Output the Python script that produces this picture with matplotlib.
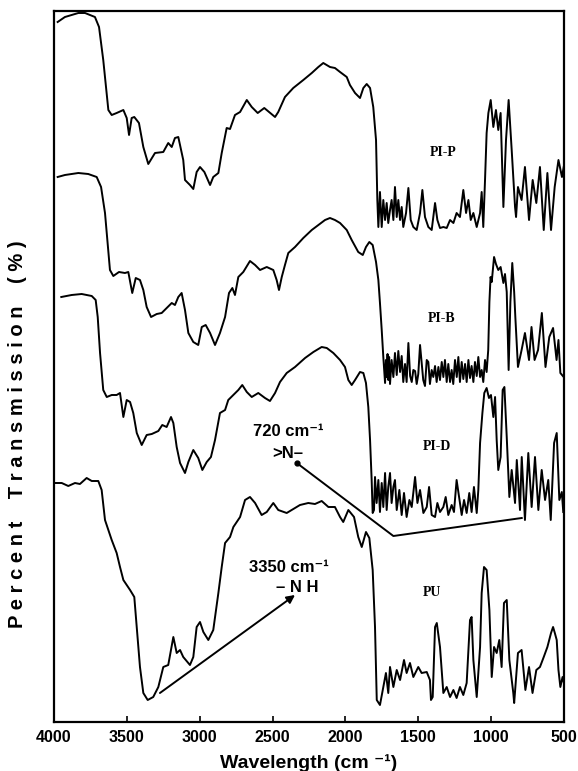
import matplotlib
matplotlib.use("Agg")
import matplotlib.pyplot as plt

# ---------------- data (wavenumber cm^-1, transmission in arbitrary stacked units) -------------
pip_wn = [3975, 3925, 3833, 3787, 3719, 3691, 3662, 3627, 3604, 3570, 3524, 3501, 3485, 3467, 3449,
          3417, 3387, 3353, 3307, 3250, 3216, 3192, 3170, 3147, 3113, 3101, 3067, 3044, 3021, 2998,
          2968, 2929, 2907, 2872, 2849, 2815, 2792, 2758, 2723, 2677, 2643, 2602, 2557, 2524, 2483,
          2461, 2415, 2358, 2289, 2231, 2186, 2152, 2106, 2072, 2037, 1991, 1969, 1934, 1900, 1877,
          1854, 1831, 1809, 1790, 1781, 1774,
          1763, 1751, 1740, 1728, 1717, 1706, 1694, 1683, 1671, 1660, 1648, 1637, 1625, 1614, 1603,
          1584, 1568, 1552, 1534, 1511, 1488, 1472, 1454, 1431, 1408, 1385, 1369, 1351, 1328, 1305,
          1282, 1259, 1237, 1214, 1191, 1172, 1156, 1140, 1122, 1099, 1076, 1065, 1054, 1042, 1031,
          1019, 1003, 985, 967, 951, 935, 916, 898, 880, 859, 836,
          829, 816, 791, 768, 740, 715, 690, 665, 639, 614, 589, 564, 538, 514, 502]
pip_t = [700, 705, 709, 709, 705, 695, 662, 612, 607, 609, 612, 604, 587, 604, 605,
         599, 575, 558, 569, 570, 579, 575, 584, 585, 562, 542, 537, 533, 550, 555,
         550, 537, 545, 549, 569, 594, 593, 607, 610, 622, 615, 609, 614, 610, 605,
         610, 625, 634, 642, 649, 655, 659, 655, 654, 650, 645, 637, 629, 624, 634,
         638, 634, 615, 582, 522, 495,
         530, 495, 522, 502, 519, 499, 512, 522, 502, 535, 505, 522, 502, 515, 495,
         509, 534, 502, 495, 492, 509, 532, 505, 495, 492, 519, 502, 494, 495, 494,
         502, 499, 509, 505, 532, 509, 522, 502, 509, 495, 509, 530, 495, 542, 589,
         609, 622, 595, 612, 592, 609, 515, 582, 622, 572, 515,
         505, 535, 522, 555, 502, 542, 519, 555, 492, 549, 492, 535, 562, 545, 555]

pib_wn = [3975, 3925, 3833, 3765, 3707, 3677, 3650, 3616, 3593, 3554, 3513, 3490, 3463, 3439, 3410,
          3387, 3364, 3334, 3295, 3261, 3227, 3192, 3170, 3147, 3124, 3101, 3078, 3044, 3010, 2986,
          2959, 2929, 2895, 2861, 2826, 2799, 2776, 2758, 2735, 2701, 2655, 2620, 2586, 2540, 2495,
          2472, 2456, 2437, 2415, 2392, 2346, 2289, 2231, 2186, 2140, 2106, 2072, 2037, 1991, 1957,
          1912, 1881, 1859, 1836, 1813, 1790, 1774, 1763, 1751, 1740,
          1728, 1722, 1717, 1711, 1706, 1700, 1694, 1683, 1671, 1660, 1648, 1637, 1625, 1614, 1603,
          1591, 1580, 1568, 1556, 1545, 1534, 1522, 1511, 1500, 1488, 1477, 1466, 1454, 1442, 1431,
          1420, 1408, 1397, 1385, 1374, 1362, 1351, 1339, 1328, 1317, 1305, 1294, 1282, 1271, 1260,
          1248, 1236, 1225, 1214, 1202, 1191, 1179, 1168, 1156, 1145, 1134, 1122, 1111, 1099, 1088,
          1076, 1065, 1054, 1042, 1031, 1020, 1012, 1004, 996, 980, 967, 951, 935, 916, 905,
          893, 880, 868, 855, 842, 834, 816, 791, 768, 740, 723, 702, 678, 652, 627,
          601, 575, 551, 538, 525, 502]
pib_t = [545, 547, 549, 548, 545, 535, 509, 452, 446, 450, 449, 450, 429, 444, 442,
         432, 415, 405, 408, 409, 414, 419, 417, 425, 429, 412, 389, 380, 377, 395,
         397, 389, 377, 389, 405, 429, 434, 427, 445, 450, 461, 457, 452, 455, 452,
         442, 432, 445, 457, 469, 475, 484, 492, 497, 502, 504, 502, 499, 492, 482,
         470, 467, 475, 480, 477, 460, 442, 419, 392, 365,
         339, 362, 345, 368, 342, 365, 338, 362, 345, 369, 347, 371, 350, 366, 340,
         358, 340, 379, 346, 340, 352, 351, 338, 348, 377, 360, 342, 336, 362, 360,
         338, 352, 345, 356, 340, 355, 342, 360, 345, 362, 340, 358, 340, 352, 338,
         362, 345, 365, 340, 360, 343, 358, 340, 362, 344, 356, 340, 360, 346, 365,
         345, 352, 340, 362, 350, 372, 420, 445, 440, 465, 458, 452, 455, 439, 448,
         430, 352, 420, 459, 430, 405, 355, 372, 389, 362, 395, 362, 372, 409, 355,
         385, 394, 362, 382, 349, 345]

pid_wn = [3950, 3879, 3810, 3741, 3714, 3700, 3684, 3662, 3638, 3604, 3570, 3547, 3524, 3501, 3478,
          3456, 3432, 3398, 3364, 3329, 3284, 3257, 3227, 3197, 3181, 3158, 3135, 3101, 3078, 3044,
          3010, 2982, 2952, 2923, 2895, 2861, 2826, 2804, 2769, 2735, 2708, 2677, 2643, 2598, 2552,
          2518, 2483, 2449, 2403, 2346, 2277, 2220, 2163, 2128, 2083, 2037, 2003, 1980, 1957, 1934,
          1900, 1877, 1859, 1843, 1831, 1820, 1813,
          1804, 1797, 1786, 1774, 1763, 1751, 1740, 1728, 1717, 1706, 1694, 1683, 1671, 1660, 1648,
          1630, 1614, 1598, 1580, 1561, 1545, 1522, 1506, 1488, 1465, 1442, 1426, 1408, 1385, 1369,
          1351, 1328, 1312, 1294, 1271, 1255, 1237, 1220, 1202, 1186, 1168, 1150, 1134, 1118, 1099,
          1088, 1076, 1060, 1047, 1031, 1015, 1001, 985, 973, 962, 951, 935, 921, 909, 893,
          875, 859, 836, 824, 802, 790, 768, 745, 722, 699, 676, 653, 630, 608, 591,
          568, 550, 532, 515, 505]
pid_t = [425, 427, 428, 426, 422, 405, 369, 332, 325, 327, 327, 329, 305, 322, 320,
         309, 289, 277, 287, 288, 291, 297, 295, 305, 299, 275, 259, 249, 260, 272,
         264, 252, 260, 265, 282, 309, 312, 322, 327, 332, 337, 330, 325, 329, 324,
         321, 329, 340, 349, 355, 364, 370, 375, 374, 369, 362, 355, 342, 337, 342,
         350, 349, 339, 315, 282, 242, 209,
         212, 245, 219, 242, 210, 239, 215, 249, 212, 235, 249, 219, 235, 242, 212,
         232, 207, 229, 205, 222, 215, 245, 219, 232, 209, 215, 235, 207, 205, 219,
         210, 215, 225, 207, 217, 210, 242, 225, 207, 222, 209, 229, 210, 235, 209,
         232, 279, 309, 329, 334, 324, 327, 305, 325, 282, 252, 265, 332, 335, 285,
         225, 252, 219, 262, 212, 265, 202, 269, 215, 265, 212, 252, 222, 242, 202,
         279, 289, 222, 230, 210]

pu_wn = [3993, 3947, 3902, 3856, 3822, 3776, 3741, 3696, 3673, 3650, 3604, 3570, 3547, 3524, 3478,
         3449, 3432, 3410, 3387, 3357, 3319, 3284, 3250, 3216, 3181, 3158, 3135, 3113, 3067, 3044,
         3021, 2998, 2975, 2941, 2907, 2872, 2849, 2826, 2792, 2769, 2723, 2689, 2655, 2620, 2575,
         2540, 2495, 2461, 2403, 2358, 2312, 2255, 2209, 2163, 2117, 2072, 2037, 2015, 1980, 1941,
         1912, 1888, 1859, 1836, 1813, 1797, 1785, 1763,
         1740, 1722, 1706, 1694, 1671, 1648, 1625, 1598, 1580, 1557, 1534, 1500, 1477, 1442, 1420,
         1413, 1401, 1385, 1373, 1351, 1328, 1305, 1282, 1259, 1237, 1214, 1191, 1168, 1145, 1134,
         1122, 1099, 1076, 1065, 1049, 1031, 1012, 996, 980, 962, 944, 928, 912, 893, 875,
         848, 842, 816, 791, 765, 740, 716, 690, 665, 639, 614, 589, 575, 563, 550,
         538, 525, 510, 502]
pu_t = [239, 239, 236, 239, 238, 244, 241, 241, 232, 202, 182, 169, 155, 142, 132,
        125, 95, 55, 29, 22, 25, 35, 55, 57, 85, 69, 72, 65, 57, 65,
        95, 100, 90, 82, 92, 129, 155, 179, 185, 195, 205, 222, 225, 219, 207,
        210, 219, 212, 209, 213, 217, 219, 218, 221, 215, 215, 205, 200, 212, 205,
        185, 175, 190, 184, 152, 95, 22, 17,
        35, 49, 29, 55, 35, 52, 42, 62, 49, 59, 45, 55, 49, 50, 42,
        22, 25, 95, 99, 75, 29, 35, 25, 32, 24, 35, 27, 39, 102, 105,
        62, 25, 75, 129, 155, 152, 112, 45, 75, 69, 82, 55, 119, 122, 62,
        29, 19, 69, 72, 32, 55, 29, 52, 55, 65, 75, 89, 95, 89, 82,
        52, 35, 45, 40]

series_labels = ["PI-P", "PI-B", "PI-D", "PU"]
label_wn = [1328, 1339, 1374, 1408]
label_t = [570, 404, 276, 129]

x_ticks = [4000, 3500, 3000, 2500, 2000, 1500, 1000, 500]

# annotation geometry (data coordinates)
nh_arrow_from = (3273, 29)
nh_arrow_to = (2346, 127)
n_line_wn = [2334, 1671, 790]
n_line_t = [259, 186, 204]

# ---------------- figure -------------
W, H = 578, 771
fig = plt.figure(figsize=(W / 100, H / 100), dpi=100)
ax = fig.add_axes([54 / W, (H - 722) / H, 510 / W, 711 / H])

sans = ["Liberation Sans", "DejaVu Sans"]
serif = ["Liberation Serif", "DejaVu Serif"]

for wn, t in [(pip_wn, pip_t), (pib_wn, pib_t), (pid_wn, pid_t), (pu_wn, pu_t)]:
    ax.plot(wn, t, color="black", lw=1.4, solid_joinstyle="round")

for lab, lx, ly in zip(series_labels, label_wn, label_t):
    ax.text(lx, ly, lab, family=serif, fontweight="bold", fontsize=10,
            ha="center", va="center")

# 3350 cm-1 N-H annotation
ax.annotate("", xy=nh_arrow_to, xytext=nh_arrow_from,
            arrowprops=dict(arrowstyle="-|>", color="black", lw=1.4,
                            mutation_scale=12, shrinkA=0, shrinkB=0))
ax.text(2387, 154, "3350 cm\u207b\u00b9", family=sans, fontweight="bold", fontsize=12,
        ha="center", va="center")
ax.text(2329, 135, "\u2013 N H", family=sans, fontweight="bold", fontsize=12,
        ha="center", va="center")

# 720 cm-1 >N- annotation
ax.plot(n_line_wn, n_line_t, color="black", lw=1.4)
ax.plot(n_line_wn[0], n_line_t[0], "o", color="black", ms=3.5)
ax.text(2391, 290, "720 cm\u207b\u00b9", family=sans, fontweight="bold", fontsize=12,
        ha="center", va="center")
ax.text(2394, 269, ">N\u2013", family=sans, fontweight="bold", fontsize=12,
        ha="center", va="center")

ax.set_xlim(4000, 500)
ax.set_ylim(0, 711)
ax.set_xticks(x_ticks)
ax.set_xticklabels([str(v) for v in x_ticks], family=sans, fontweight="bold", fontsize=11.5)
ax.tick_params(axis="x", direction="in", length=4, width=1.2, pad=6, top=False)
ax.set_yticks([])
for sp in ax.spines.values():
    sp.set_linewidth(1.6)

ax.set_xlabel("Wavelength (cm \u207b\u00b9)", family=sans, fontweight="bold", fontsize=14,
              labelpad=6)
ax.set_ylabel("P e r c e n t    T r a n s m i s s i o n    ( % )", family=sans,
              fontweight="bold", fontsize=14.5)
ax.yaxis.set_label_coords(-0.052, 0.405)

fig.savefig("out.png", dpi=100)
